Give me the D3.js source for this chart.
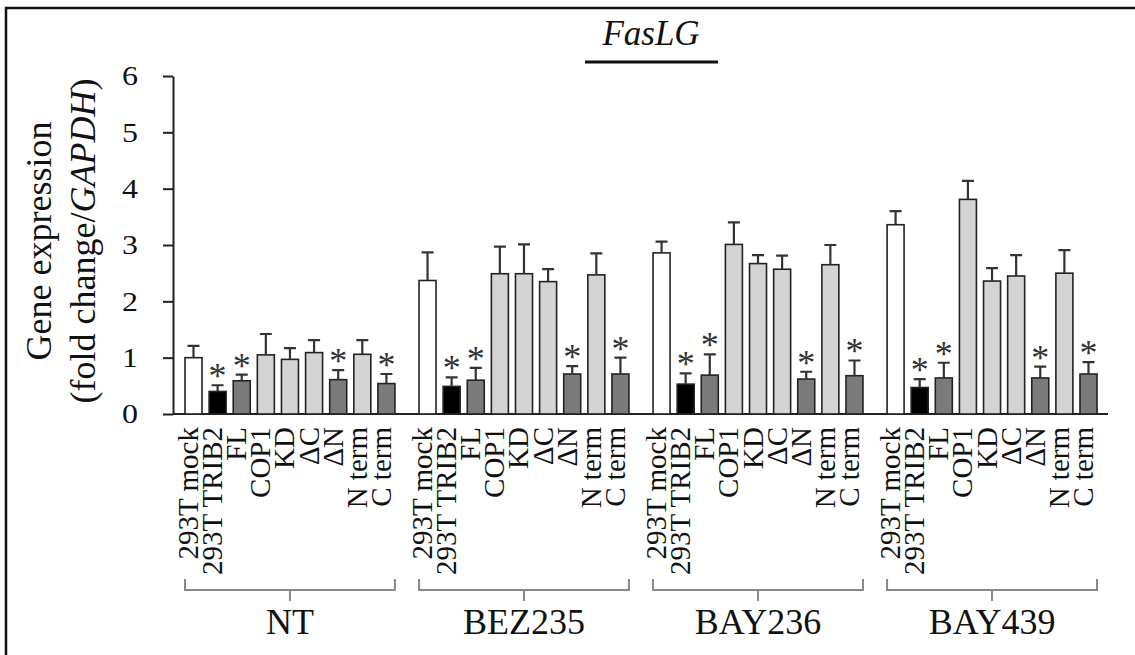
<!DOCTYPE html>
<html>
<head>
<meta charset="utf-8">
<script src="https://cdn.jsdelivr.net/npm/d3@7"></script>
<style>
  html, body { margin: 0; padding: 0; background: #fff; }
  svg { display: block; }
</style>
</head>
<body>
<svg id="chart" width="1135" height="655"></svg>
<script>
// ---------- data ----------
const title = "FasLG";
const groups = ["NT", "BEZ235", "BAY236", "BAY439"];
const categories = ["293T mock", "293T TRIB2", "FL", "COP1", "KD", "ΔC", "ΔN", "N term", "C term"];
const yTicks = [0, 1, 2, 3, 4, 5, 6];

const meanNT     = [1.00, 0.40, 0.59, 1.05, 0.97, 1.09, 0.61, 1.06, 0.54];
const errNT      = [0.21, 0.11, 0.11, 0.37, 0.20, 0.22, 0.17, 0.25, 0.17];
const meanBEZ235 = [2.37, 0.49, 0.60, 2.49, 2.49, 2.35, 0.71, 2.47, 0.71];
const errBEZ235  = [0.50, 0.16, 0.22, 0.48, 0.52, 0.22, 0.14, 0.38, 0.29];
const meanBAY236 = [2.86, 0.53, 0.69, 3.01, 2.67, 2.57, 0.62, 2.65, 0.68];
const errBAY236  = [0.20, 0.19, 0.37, 0.39, 0.15, 0.24, 0.13, 0.35, 0.27];
const meanBAY439 = [3.36, 0.47, 0.64, 3.81, 2.36, 2.45, 0.64, 2.50, 0.71];
const errBAY439  = [0.24, 0.15, 0.27, 0.33, 0.23, 0.37, 0.20, 0.41, 0.21];
const significant = [false, true, true, false, false, false, true, false, true];

const categoryColors = ["#ffffff", "#000000", "#7b7b7b", "#d4d4d4", "#d4d4d4", "#d4d4d4", "#7b7b7b", "#d4d4d4", "#7b7b7b"];

const means = [meanNT, meanBEZ235, meanBAY236, meanBAY439];
const errs = [errNT, errBEZ235, errBAY236, errBAY439];

const rows = [];
groups.forEach((g, gi) => {
  categories.forEach((c, ci) => {
    rows.push({ group: g, cat: c, value: means[gi][ci], err: errs[gi][ci], sig: significant[ci] });
  });
});

// ---------- layout ----------
const FONT = "'Liberation Serif', 'Times New Roman', serif";
const svg = d3.select("#chart");
const axisX = 173;
const xAxisEnd = 1108;

const x0 = d3.scaleBand().domain(groups).range([185, 1097]).paddingInner(0.103).paddingOuter(0);
const x1 = d3.scaleBand().domain(categories).range([0, x0.bandwidth()]).paddingInner(0.295).paddingOuter(0);
const y = d3.scaleLinear().domain([0, 6]).range([414, 76]);
const color = d3.scaleOrdinal().domain(categories).range(categoryColors);

// border
svg.append("rect")
  .attr("x", 6).attr("y", 8).attr("width", 1400).attr("height", 1000)
  .attr("fill", "none").attr("stroke", "#111").attr("stroke-width", 2.5);

// title
svg.append("text")
  .attr("x", 651).attr("y", 45)
  .attr("text-anchor", "middle")
  .style("font-size", "35px").style("font-style", "italic")
  .text(title);
svg.append("line")
  .attr("x1", 585).attr("x2", 718).attr("y1", 62).attr("y2", 62)
  .attr("stroke", "#111").attr("stroke-width", 3);

// y axis
const yAxis = d3.axisLeft(y).tickValues(yTicks).tickFormat(d3.format("d"))
  .tickSize(10).tickSizeOuter(0).tickPadding(25);
const gy = svg.append("g").attr("transform", `translate(${axisX},0)`).call(yAxis);
gy.attr("font-family", null).attr("font-size", null);
gy.select(".domain").attr("stroke", "#222").attr("stroke-width", 2);
gy.selectAll(".tick line").attr("stroke", "#222").attr("stroke-width", 2);
gy.selectAll(".tick text")
  .style("font-size", "28px")
  .attr("fill", "#111")
  .attr("textLength", 16).attr("lengthAdjust", "spacingAndGlyphs");

// y axis label
const yl = svg.append("g").attr("transform", "translate(0,241)");
yl.append("text")
  .attr("transform", "translate(51,0) rotate(-90)")
  .attr("text-anchor", "middle")
  .style("font-size", "36px")
  .text("Gene expression");
const yl2 = yl.append("text")
  .attr("transform", "translate(95,0) rotate(-90)")
  .attr("text-anchor", "middle")
  .style("font-size", "36px");
yl2.append("tspan").text("(fold change/");
yl2.append("tspan").style("font-style", "italic").text("GAPDH");
yl2.append("tspan").text(")");

// x axis line
svg.append("line")
  .attr("x1", axisX).attr("x2", xAxisEnd).attr("y1", y(0)).attr("y2", y(0))
  .attr("stroke", "#222").attr("stroke-width", 2);

// bars
const gBars = svg.append("g");
const bx = d => x0(d.group) + x1(d.cat);
const bc = d => bx(d) + x1.bandwidth() / 2;

gBars.selectAll("rect.bar").data(rows).join("rect")
  .attr("class", "bar")
  .attr("x", bx)
  .attr("y", d => y(d.value))
  .attr("width", x1.bandwidth())
  .attr("height", d => y(0) - y(d.value))
  .attr("fill", d => color(d.cat))
  .attr("stroke", "#222").attr("stroke-width", 1.6);

// error bars
const capW = 12;
gBars.selectAll("path.err").data(rows).join("path")
  .attr("class", "err")
  .attr("d", d => {
    const cx = bc(d), yt = y(d.value + d.err), yb = y(d.value);
    return `M${cx},${yb}V${yt}M${cx - capW / 2},${yt}H${cx + capW / 2}`;
  })
  .attr("fill", "none").attr("stroke", "#333").attr("stroke-width", 2.2);

// significance stars
gBars.selectAll("text.star").data(rows.filter(d => d.sig)).join("text")
  .attr("class", "star")
  .attr("x", bc)
  .attr("y", d => y(d.value + d.err) + 3)
  .attr("text-anchor", "middle")
  .style("font-size", "36px")
  .attr("fill", "#333")
  .text("*");

// category labels
svg.append("g").selectAll("text.cat").data(rows).join("text")
  .attr("class", "cat")
  .attr("transform", d => `translate(${bc(d) + 4.5},427) rotate(-90)`)
  .attr("text-anchor", "end")
  .style("font-size", "29px")
  .text(d => d.cat);

// group brackets
const gb = svg.append("g");
gb.selectAll("path").data(groups).join("path")
  .attr("d", g => {
    const a = x0(g), b = x0(g) + x0.bandwidth(), m = (a + b) / 2;
    return `M${a},579V590H${b}V579M${m},590V601`;
  })
  .attr("fill", "none").attr("stroke", "#888").attr("stroke-width", 2);

gb.selectAll("text").data(groups).join("text")
  .attr("x", g => x0(g) + x0.bandwidth() / 2)
  .attr("y", 634)
  .attr("text-anchor", "middle")
  .style("font-size", "36px")
  .text(g => g);

// apply serif font to every text element
svg.selectAll("text").style("font-family", FONT).attr("fill", "#111");
svg.selectAll("text.star").attr("fill", "#333");
</script>
</body>
</html>
